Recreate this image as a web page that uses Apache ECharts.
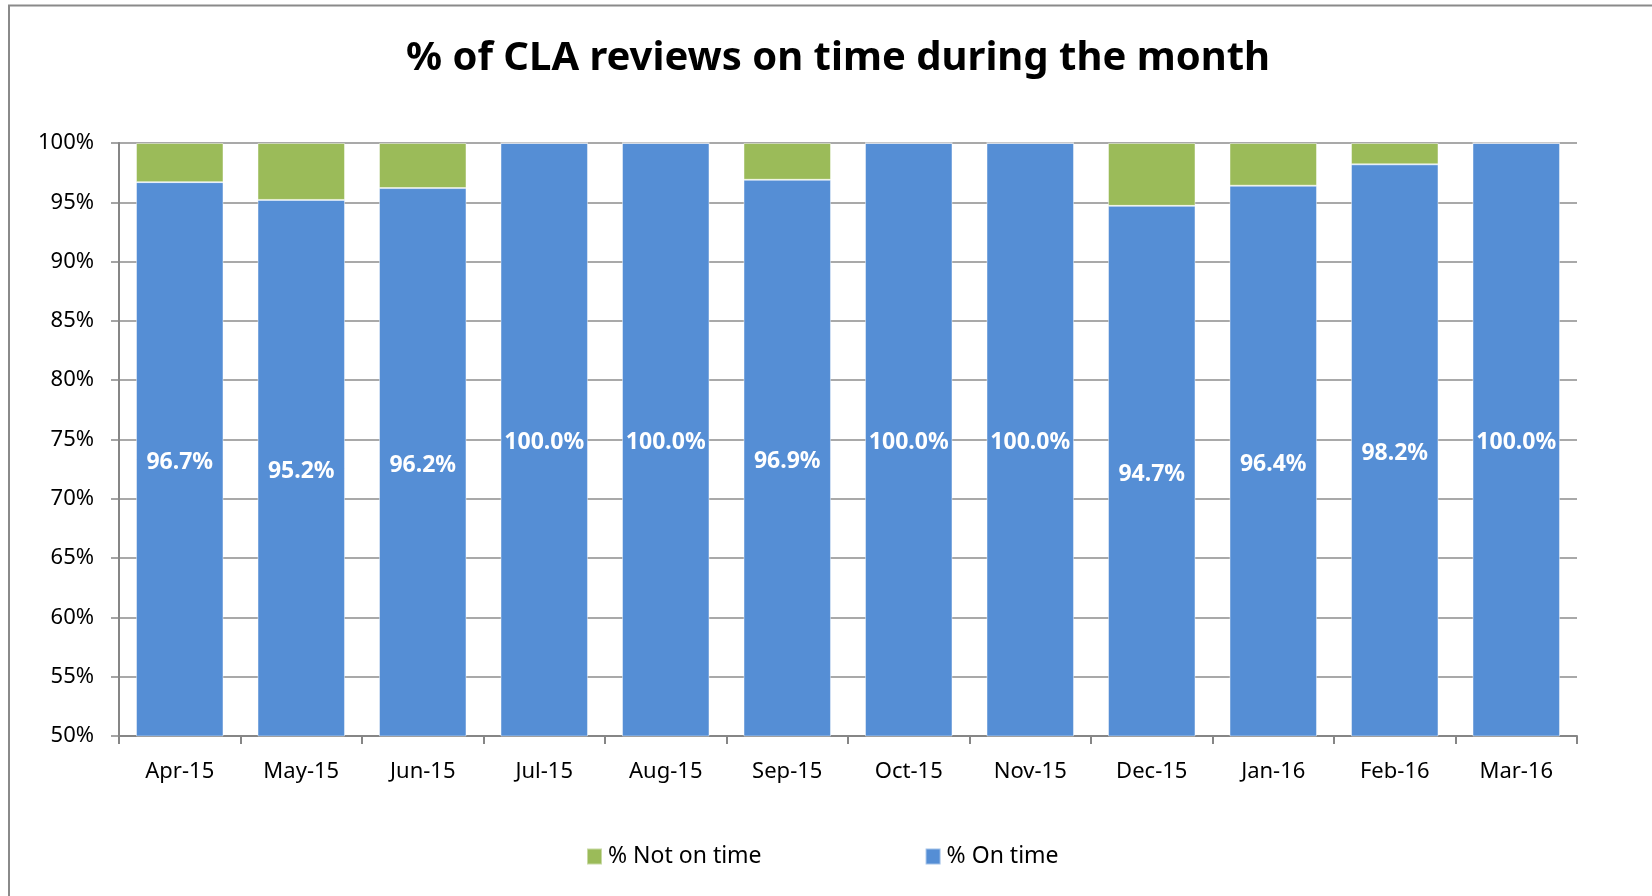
<!DOCTYPE html>
<html>
<head>
<meta charset="utf-8">
<script src="https://cdn.jsdelivr.net/npm/echarts@6/dist/echarts.min.js"></script>
<style>
html,body{margin:0;padding:0;background:#fff;}
#chart{width:1652px;height:896px;}
</style>
</head>
<body>
<div id="chart"></div>
<script>
var categories = ['Apr-15','May-15','Jun-15','Jul-15','Aug-15','Sep-15','Oct-15','Nov-15','Dec-15','Jan-16','Feb-16','Mar-16'];
var onTime = [96.7, 95.2, 96.2, 100.0, 100.0, 96.9, 100.0, 100.0, 94.7, 96.4, 98.2, 100.0];
var notOnTime = [3.3, 4.8, 3.8, 0, 0, 3.1, 0, 0, 5.3, 3.6, 1.8, 0];
var yTicks = {min: 50, max: 100, step: 5};

var FONT = 'Noto Sans';
var chart = echarts.init(document.getElementById('chart'));
chart.setOption({
  animation: false,
  backgroundColor: '#fff',
  textStyle: {fontFamily: FONT},
  graphic: [{
    type: 'rect', silent: true, z: -10,
    shape: {x: 9, y: 5.5, width: 1700, height: 1000},
    style: {fill: 'none', stroke: '#8a8a8a', lineWidth: 2}
  }],
  title: {
    text: '% of CLA reviews on time during the month',
    left: 833, textAlign: 'center', top: 34,
    textStyle: {fontFamily: FONT, fontWeight: 'bold', fontSize: 40, color: '#000'}
  },
  legend: {
    data: ['% Not on time', '% On time'],
    left: 581, top: 840,
    itemGap: 163, itemWidth: 15, itemHeight: 16,
    icon: 'rect',
    textStyle: {fontFamily: FONT, fontSize: 23, color: '#000', padding: [0,0,0,1]}
  },
  grid: {left: 119, right: 75, top: 143, bottom: 160, containLabel: false},
  xAxis: {
    type: 'category', data: categories,
    axisLine: {lineStyle: {color: '#868686', width: 2}},
    axisTick: {show: true, alignWithLabel: false, length: 8, lineStyle: {color: '#868686', width: 2}},
    axisLabel: {fontFamily: FONT, fontSize: 22, color: '#000', margin: 25},
    splitLine: {show: false}
  },
  yAxis: {
    type: 'value', min: yTicks.min, max: yTicks.max, interval: yTicks.step,
    axisLine: {show: true, lineStyle: {color: '#868686', width: 2}},
    axisTick: {show: true, length: 8, lineStyle: {color: '#868686', width: 1.5}},
    axisLabel: {fontFamily: FONT, fontSize: 22, color: '#000', margin: 25, formatter: '{value}%'},
    splitLine: {lineStyle: {color: '#8c8c8c', width: 1.5}}
  },
  series: [{
    name: '% On time', type: 'bar', stack: 'total', data: onTime,
    barCategoryGap: '28%',
    itemStyle: {color: '#558ED5', borderColor: 'rgba(255,255,255,0.45)', borderWidth: 1},
    label: {
      show: true, position: 'inside', offset: [0, 3], color: '#fff', fontFamily: FONT,
      fontWeight: 'bold', fontSize: 23,
      formatter: function (p) { return p.value.toFixed(1) + '%'; }
    }
  }, {
    name: '% Not on time', type: 'bar', stack: 'total', data: notOnTime,
    barCategoryGap: '28%',
    itemStyle: {color: '#9BBB59', borderColor: 'rgba(255,255,255,0.45)', borderWidth: 1}
  }]
});
</script>
</body>
</html>
